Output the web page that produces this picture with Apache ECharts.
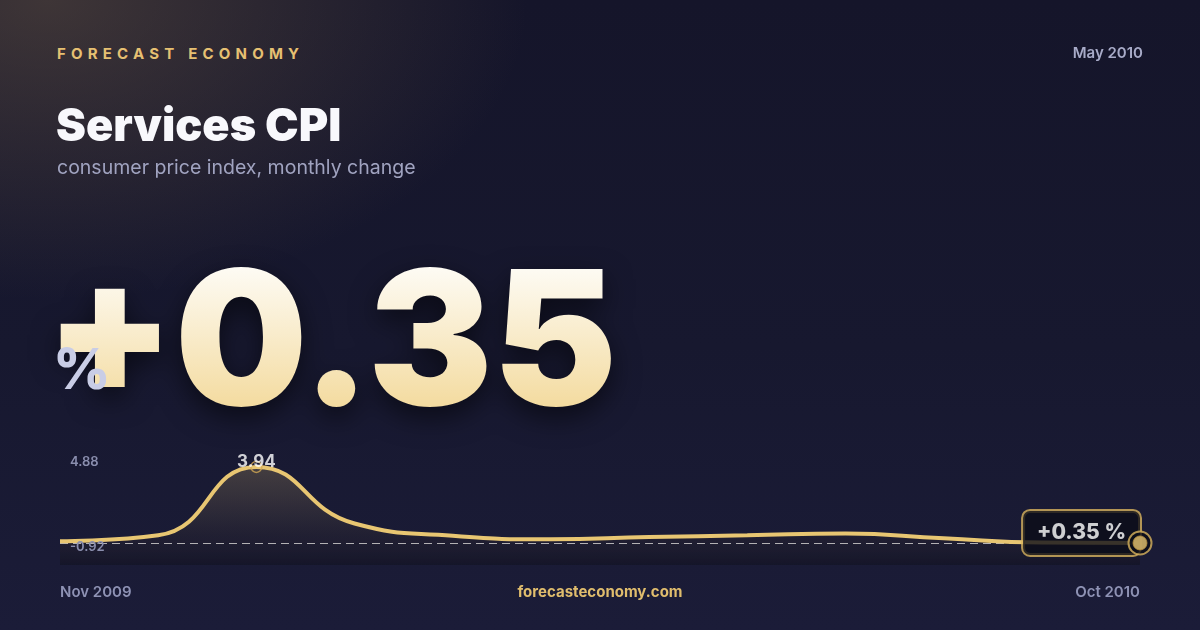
<!DOCTYPE html>
<html lang="en">
<head>
    <meta charset="UTF-8">
    <title>Services CPI</title>
    <script src="https://cdn.jsdelivr.net/npm/echarts@6/dist/echarts.min.js"></script>
    <style>
        html, body { margin: 0; padding: 0; }
        body {
            width: 1200px; height: 630px; overflow: hidden; position: relative;
            background:
                radial-gradient(ellipse 640px 400px at 4% 0%, rgba(112, 92, 70, 0.45), rgba(112, 92, 70, 0) 75%),
                linear-gradient(180deg, #15152a 0%, #17182f 55%, #1b1c38 100%);
            font-family: Inter, "Noto Sans", sans-serif;
        }
        #brand {
            position: absolute; left: 57px; top: 44px;
            color: #e6c072; font: 700 15px Inter, sans-serif;
            letter-spacing: 5.2px;
        }
        #big {
            position: absolute; left: 45px; top: 244px;
            font: 900 187px/187px Inter, sans-serif;
            white-space: nowrap;
            background: linear-gradient(180deg, #fefdf9 8%, #f3d99a 92%);
            -webkit-background-clip: text; background-clip: text;
            color: transparent;
            filter: drop-shadow(0 10px 14px rgba(0, 0, 0, 0.55));
        }
        #main { position: absolute; left: 0; top: 0; width: 1200px; height: 630px; }
    </style>
</head>
<body>
    <div id="brand">FORECAST ECONOMY</div>
    <div id="big"></div>
    <div id="main"></div>
<script>
    // 月度数据
    var months = ['Nov 2009', 'Dec 2009', 'Jan 2010', 'Feb 2010', 'Mar 2010', 'Apr 2010',
                  'May 2010', 'Jun 2010', 'Jul 2010', 'Aug 2010', 'Sep 2010', 'Oct 2010'];
    var cpiChange = [0.43, 0.71, 3.94, 1.27, 0.69, 0.52, 0.63, 0.71, 0.80, 0.57, 0.37, 0.35];
    var rangeLabels = ['4.88', '-0.92'];
    var headerDate = 'May 2010';

    var gold = '#e8c672';
    var lastIdx = cpiChange.length - 1;
    var lastVal = cpiChange[lastIdx];
    var peakIdx = cpiChange.indexOf(Math.max.apply(null, cpiChange));
    var peakVal = cpiChange[peakIdx];
    var headline = (lastVal >= 0 ? '+' : '') + lastVal.toFixed(2);

    document.getElementById('big').textContent = headline;

    var myChart = echarts.init(document.getElementById('main'));

    var option = {
        backgroundColor: 'transparent',
        animation: false,
        grid: { left: 60, right: 60, top: 447, bottom: 65 },
        xAxis: {
            type: 'category',
            boundaryGap: false,
            data: months,
            axisLine: { show: false },
            axisTick: { show: false },
            splitLine: { show: false },
            axisLabel: {
                interval: function (i) { return i === 0 || i === lastIdx; },
                color: '#8e92b4',
                fontFamily: 'Inter',
                fontWeight: 600,
                fontSize: 15,
                margin: 20,
                alignMinLabel: 'left',
                alignMaxLabel: 'right'
            }
        },
        yAxis: {
            type: 'value',
            min: -0.69,
            max: 4.88,
            show: false
        },
        graphic: [
            {
                type: 'text', right: 57, top: 46,
                style: { text: headerDate, fill: '#a8abc8', font: '600 15px Inter' }
            },
            {
                type: 'text', x: 56, y: 127,
                style: { text: 'Services CPI', fill: '#f8f8fc', font: '900 45px Inter', verticalAlign: 'middle' }
            },
            {
                type: 'text', left: 57, top: 158,
                style: { text: 'consumer price index, monthly change', fill: '#a0a3c0', font: '400 19.5px Inter' }
            },
            {
                type: 'text', x: 53, y: 372,
                style: { text: '%', font: '800 56px Inter', fill: '#c9cde6', verticalAlign: 'middle' }
            },
            {
                type: 'text', x: 70, y: 462,
                style: { text: rangeLabels[0], font: '600 13px Inter', fill: '#8a8eae', verticalAlign: 'middle' }
            },
            {
                type: 'text', x: 70, y: 547, z: 10,
                style: { text: rangeLabels[1], font: '600 13px Inter', fill: '#8a8eae', verticalAlign: 'middle' }
            },
            {
                type: 'text', left: 'center', top: 585,
                style: { text: 'forecasteconomy.com', font: '700 15px Inter', fill: '#e0bd6d' }
            }
        ],
        series: [
            {
                name: 'CPI',
                type: 'line',
                z: 2,
                data: cpiChange,
                smooth: true,
                symbol: 'none',
                lineStyle: { color: gold, width: 4 },
                areaStyle: {
                    origin: 'start',
                    color: new echarts.graphic.LinearGradient(0, 0, 0, 1, [
                        { offset: 0, color: 'rgba(232,198,114,0.3)' },
                        { offset: 0.7, color: 'rgba(60,50,44,0.3)' },
                        { offset: 1, color: 'rgba(10,10,14,0.45)' }
                    ])
                },
                markLine: {
                    z: 1,
                    silent: true,
                    symbol: 'none',
                    label: { show: false },
                    lineStyle: { color: 'rgba(255,255,255,0.85)', width: 1, type: [8, 5] },
                    data: [{ yAxis: lastVal }]
                }
            },
            {
                name: 'peak',
                type: 'scatter',
                z: 4,
                data: [[peakIdx, peakVal]],
                symbol: 'circle',
                symbolSize: 11,
                itemStyle: { color: 'transparent', borderColor: '#d4aa55', borderWidth: 1.5 },
                label: {
                    show: true,
                    position: 'inside',
                    offset: [0, -5],
                    formatter: function (p) { return p.value[1].toFixed(2); },
                    color: '#ffffff',
                    fontFamily: 'Inter',
                    fontWeight: 700,
                    fontSize: 17
                }
            },
            {
                name: 'last',
                type: 'scatter',
                z: 3,
                data: [[lastIdx, lastVal]],
                symbol: 'circle',
                symbolSize: 14,
                itemStyle: { color: 'transparent' },
                label: {
                    show: true,
                    position: [7, -3],
                    align: 'right',
                    verticalAlign: 'middle',
                    formatter: function (p) { return (p.value[1] >= 0 ? '+' : '') + p.value[1].toFixed(2) + ' %'; },
                    color: '#ffffff',
                    fontFamily: 'Inter',
                    fontWeight: 800,
                    fontSize: 21,
                    lineHeight: 24,
                    backgroundColor: '#0b0c18',
                    borderColor: '#d9b45e',
                    borderWidth: 2,
                    borderRadius: 7,
                    padding: [10, 14, 10, 14]
                }
            },
            {
                name: 'ring',
                type: 'scatter',
                z: 5,
                data: [[lastIdx, lastVal]],
                symbol: 'circle',
                symbolSize: 23,
                itemStyle: { color: '#0b0c18', borderColor: '#d9b45e', borderWidth: 2 }
            },
            {
                name: 'dot',
                type: 'scatter',
                z: 6,
                data: [[lastIdx, lastVal]],
                symbol: 'circle',
                symbolSize: 14,
                itemStyle: { color: gold, borderColor: '#b8913f', borderWidth: 1 }
            }
        ]
    };
    myChart.setOption(option);

    window.addEventListener('resize', function () {
        myChart.resize();
    });
</script>
</body>
</html>
